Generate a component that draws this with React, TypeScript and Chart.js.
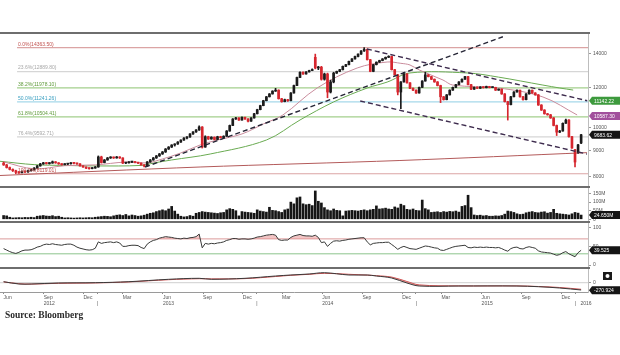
import React, { useEffect, useRef } from 'react';
import { Chart, registerables } from 'chart.js';
Chart.register(...registerables);

// ---------- DATA ----------
const START_DATE = '2012-06-01'; // week index 0
// weekly candles [open, high, low, close]
const ohlc: number[][] = [
  [8520,8560,8430,8450],[8450,8470,8330,8350],[8350,8370,8260,8280],[8280,8300,8200,8230],[8230,8250,8119,8170],
  [8170,8200,8130,8160],[8160,8230,8150,8200],[8200,8220,8160,8190],[8190,8250,8170,8230],[8230,8280,8210,8260],
  [8260,8350,8250,8330],[8330,8430,8320,8410],[8410,8510,8400,8490],[8490,8550,8470,8530],[8530,8550,8480,8500],
  [8500,8540,8480,8520],[8520,8600,8510,8570],[8570,8580,8510,8530],[8530,8540,8470,8490],[8490,8500,8440,8460],
  [8460,8500,8450,8480],[8480,8510,8460,8495],[8495,8540,8480,8520],[8520,8540,8490,8510],[8510,8520,8470,8490],
  [8490,8500,8400,8410],[8410,8420,8350,8370],[8370,8380,8310,8330],[8330,8340,8290,8310],[8310,8350,8300,8330],
  [8330,8390,8320,8370],[8370,8800,8360,8760],[8760,8790,8520,8540],[8540,8660,8530,8640],[8640,8740,8630,8720],
  [8720,8770,8700,8750],[8750,8760,8700,8720],[8720,8780,8710,8760],[8760,8770,8700,8720],[8720,8730,8500,8520],
  [8520,8550,8500,8530],[8530,8580,8520,8560],[8560,8590,8540,8565],[8565,8570,8530,8545],[8545,8550,8500,8520],
  [8520,8530,8440,8450],[8450,8460,8370,8410],[8410,8580,8400,8565],[8565,8660,8550,8640],[8640,8740,8630,8720],
  [8720,8820,8700,8800],[8800,8900,8780,8880],[8880,8980,8860,8960],[8960,9100,8940,9080],[9080,9180,9060,9160],
  [9160,9260,9140,9246],[9246,9300,9200,9290],[9290,9390,9270,9370],[9370,9470,9350,9457],[9457,9560,9440,9540],
  [9540,9600,9500,9590],[9590,9740,9570,9720],[9720,9830,9700,9810],[9810,9910,9790,9896],[9896,10080,9880,10030],
  [10030,10050,9120,9160],[9160,9640,9150,9600],[9600,9620,9480,9500],[9500,9600,9490,9580],[9580,9590,9460,9480],
  [9480,9620,9470,9600],[9600,9620,9540,9560],[9560,9640,9550,9620],[9620,9870,9610,9850],[9850,10120,9840,10100],
  [10100,10420,10090,10400],[10400,10480,10380,10450],[10450,10470,10330,10350],[10350,10500,10340,10480],[10480,10490,10380,10400],
  [10400,10420,10260,10300],[10300,10470,10290,10450],[10450,10670,10440,10650],[10650,10870,10640,10850],[10850,11070,10840,11050],
  [11050,11320,11040,11300],[11300,11520,11290,11500],[11500,11670,11490,11650],[11650,11820,11640,11800],[11800,11950,11780,11850],
  [11850,11870,11380,11400],[11400,11420,11220,11250],[11250,11380,11240,11350],[11350,11370,11260,11300],[11300,11720,11290,11700],
  [11700,12120,11690,12100],[12100,12570,12090,12550],[12550,12870,12540,12850],[12850,12880,12720,12750],[12750,12890,12740,12870],
  [12870,12970,12860,12950],[12950,13050,12940,13000],[13750,13950,13050,13100],[13100,13200,13000,13150],[13150,13200,12400,12450],
  [12450,12800,12400,12750],[12750,12800,11450,11750],[11750,12400,11700,12300],[12300,12850,12250,12800],[12800,12920,12780,12900],
  [12900,13020,12880,13000],[13000,13220,12980,13200],[13200,13320,13180,13300],[13300,13520,13280,13500],[13500,13670,13480,13650],
  [13650,13820,13630,13800],[13800,13970,13780,13950],[13950,14170,13930,14150],[14150,14363.5,14120,14250],[14250,14270,13580,13600],
  [13600,13620,12880,12900],[12900,13320,12880,13300],[13300,13470,13280,13450],[13450,13570,13430,13550],[13550,13670,13530,13650],
  [13650,13770,13630,13750],[13750,13850,13730,13800],[13800,13820,12980,13000],[13000,13020,12680,12700],[12700,12720,11600,11750],
  [11750,12320,10900,12300],[12300,12850,12280,12750],[12750,12770,12230,12250],[12250,12270,11930,11950],[11950,11980,11820,11850],
  [11850,11870,11680,11700],[11700,12020,11690,12000],[12000,12370,11990,12350],[12350,12850,12340,12700],[12700,12720,12580,12600],
  [12600,12620,12430,12450],[12450,12470,12280,12300],[12300,12320,12080,12100],[12100,12120,11200,11500],[11500,11520,11330,11350],
  [11350,11620,11340,11600],[11600,11870,11590,11850],[11850,12020,11840,12000],[12000,12170,11990,12150],[12150,12320,12140,12300],
  [12300,12470,12290,12450],[12450,12620,12440,12600],[12600,12620,12130,12150],[12150,12170,11880,11900],[11900,12020,11890,12000],
  [12000,12030,11930,11950],[11950,12040,11940,12020],[12020,12040,11960,11980],[11980,12070,11970,12050],[12050,12060,11970,11990],
  [11990,12030,11980,12000],[12000,12010,11830,11850],[11850,11920,11840,11900],[11900,11920,11630,11650],[11650,11670,11230,11250],
  [11250,11270,10350,11100],[11100,11520,11090,11500],[11500,11770,11490,11750],[11750,11870,11740,11850],[11850,11860,11480,11500],
  [11500,11520,11330,11350],[11350,11670,11340,11650],[11650,11870,11640,11850],[11850,11860,11680,11700],[11700,11720,11580,11600],
  [11600,11620,11060,11080],[11080,11100,10810,10830],[10830,10850,10630,10650],[10650,10670,10580,10600],[10600,10620,10430,10450],
  [10450,10470,10080,10100],[10100,10120,9650,9800],[9800,9880,9780,9850],[9850,10220,9840,10200],[10200,10400,10190,10350],
  [10350,10370,9580,9600],[9600,9620,9100,9120],[9050,9070,8370,8560],[8950,9270,8900,9250],[9330,9700,9300,9683.62],
];
// weekly volume, millions
const volume: number[] = [
  22,20,12,8,9,10,9,11,10,12, 10,18,20,22,19,18,21,16,18,12, 8,9,8,7,8,9,8,9,10,9,
  12,14,16,18,17,15,20,24,26,22, 28,20,25,22,18,20,24,30,35,38, 45,50,55,50,60,75,48,30,18,14,
  16,22,18,35,40,45,42,40,38,36, 34,38,40,55,62,58,50,20,45,42, 40,38,35,55,48,45,42,70,52,50,
  45,40,55,60,100,90,125,130,90,85, 88,80,165,105,95,68,55,50,60,52, 50,20,48,50,52,50,48,52,55,50,
  55,58,78,60,62,65,60,58,72,66, 88,80,58,55,60,52,50,112,62,55, 40,42,44,40,45,42,46,44,48,42,
  75,80,140,68,25,22,24,20,22,18, 18,20,19,22,30,48,45,40,32,28, 30,38,42,45,40,38,42,44,36,40,
  58,35,32,30,28,25,32,40,36,24.65,
];
const rsi: number[] = [
  44,40,36,33,31,34,38,40,40,41, 44,48,50,54,56,55,57,55,54,53, 55,56,56,53,48,45,43,41,40,41,
  45,62,58,60,61,62,60,62,59,50, 50,52,53,53,52,47,44,56,62,66, 68,72,74,76,75,74,72,71,70,72,
  71,73,74,76,83,46,58,56,58,57, 59,60,62,66,68,71,71,69,70,70, 69,70,72,75,76,78,80,81,82,80,
  68,66,67,67,74,78,80,82,79,78, 78,77,80,74,60,62,50,58,64,65, 64,66,67,69,70,71,72,73,73,62,
  54,58,59,60,60,61,61,55,49,42, 47,50,47,44,43,42,45,48,51,50, 48,46,45,40,39,42,45,48,50,51,
  52,53,47,46,48,47,48,47,48,47, 47,46,47,44,40,37,44,47,48,44, 43,47,49,47,45,38,35,34,33,32,
  29,26,28,33,36,30,26,22,33,39.525,
];
// indicator lines: [weekIndex, value]
const macdIdx = [0,5,9,18,30,41,54,64,68,79,89,94,100,105,113,119,122,127,132,136,149,168,175,182,189];
const macdLine = [50,-65,-65,-15,0,50,170,220,170,220,335,385,435,500,385,385,335,235,-15,-165,-165,-165,-200,-265,-365];
const macdSignal = [40,-50,-70,-30,-10,40,150,200,190,205,310,370,420,470,420,380,350,280,60,-110,-160,-160,-190,-240,-330];
const maShort: number[][] = [[0,8565],[10,8300],[20,8420],[30,8450],[40,8560],[47,8530],[52,8680],[58,8920],[64.3,9246],[70,9457],[78,9720],[85,10170],[91.4,10592],[102.6,11966],[115.7,13100],[125.5,13460],[130,13380],[133,13280],[136,12985],[143.8,12406],[147,12126],[162,11966],[176.5,11490],[187.7,10592]];
const maLong: number[][] = [[-1.2,8590],[10,8460],[20,8430],[30,8411],[45,8430],[49,8520],[55,8641],[67.6,8877],[86,9457],[97,10354],[108,11235],[119,11966],[125.5,12290],[133,12810],[151.7,12810],[162,12570],[176.5,12126],[182,11966],[186.4,11856]];
const longTrend: number[][] = [[-1.2,8054],[64.3,8370],[129.7,8620],[190.9,8932]];
const supportLine: number[][] = [[46.3,8370],[163.4,15090]];
const upperChannel: number[][] = [[118.9,14273],[191,11297]];
const lowerChannel: number[][] = [[116.7,11284],[190.9,8877]];
const fibLevels = [14363.5, 12889.8, 11978.1, 11241.26, 10504.41, 9592.71, 8119.01];
const fibLabels = ['0.0%(14363.50)','23.6%(12889.80)','38.2%(11978.10)','50.0%(11241.26)','61.8%(10504.41)','76.4%(9592.71)','100.0%(8119.01)'];
const priceTicks = [8000, 9000, 10000, 12000, 14000];
const volumeTicks = [0, 50, 100, 150];
const rsiTicks = [0, 50, 100];
const macdTicks = [0];
const xTickDates = ['2012-06-01','2012-09-01','2012-12-01','2013-01-01','2013-03-01','2013-06-01','2013-09-01','2013-12-01','2014-01-01','2014-03-01','2014-06-01','2014-09-01','2014-12-01','2015-01-01','2015-03-01','2015-06-01','2015-09-01','2015-12-01','2016-01-01'];
const xTickLabels = [['Jun',''],['Sep','2012'],['Dec',''],['','|'],['Mar',''],['Jun','2013'],['Sep',''],['Dec',''],['','|'],['Mar',''],['Jun','2014'],['Sep',''],['Dec',''],['','|'],['Mar',''],['Jun','2015'],['Sep',''],['Dec',''],['','|   2016']];
const valueBoxes = [
  { axis: 'yP', value: 11300, text: '11142.22', color: '#3d9a3d' },
  { axis: 'yP', value: 10545, text: '10587.30', color: '#a1509c' },
  { axis: 'yP', value: 9683.62, text: '9683.62', color: '#151515' },
  { axis: 'yV', value: 24.65, text: '24.650M', color: '#151515' },
  { axis: 'yR', value: 39.525, text: '39.525', color: '#151515' },
  { axis: 'yM', value: -380, text: '-270.924', color: '#151515' },
];

// ---------- STYLE ----------
const UP = '#1c1c1c';
const DOWN = '#d6262e';
const FONT = 'Liberation Sans';
const fibLineColors = ['#dba4a4','#d6d6d6','#a3cf8c','#a6d8ea','#a3cf8c','#d6d6d6','#dba4a4'];
const fibTextColors = ['#c0504d','#a8a8a8','#5f9a3a','#3a9fc0','#5f9a3a','#a8a8a8','#c0504d'];
const X_MIN = -1.18, X_MAX = 191.25, FIB_START = 4.4;

const weekIndex = (d: string) => (Date.parse(d) - Date.parse(START_DATE)) / (7 * 864e5);
const pts = (arr: number[][]) => arr.map(([x, y]) => ({ x, y }));

const overlay = {
  id: 'overlay',
  afterDatasetsDraw(chart: any) {
    const ctx = chart.ctx;
    const xs = chart.scales.x, yP = chart.scales.yP;
    ctx.save();
    ctx.font = `5px "${FONT}"`;
    ctx.textBaseline = 'bottom';
    fibLevels.forEach((lv, k) => {
      ctx.fillStyle = fibTextColors[k];
      ctx.fillText(fibLabels[k], xs.getPixelForValue(FIB_START) + 1, yP.getPixelForValue(lv) - 1);
    });
    ctx.restore();
  },
  afterDraw(chart: any) {
    const ctx = chart.ctx, area = chart.chartArea;
    ctx.save();
    ctx.strokeStyle = '#6e6e6e';
    ctx.lineWidth = 2;
    ['yP', 'yV', 'yR', 'yM'].forEach((id) => {
      const t = Math.round(chart.scales[id].top);
      ctx.beginPath();
      ctx.moveTo(0, t);
      ctx.lineTo(area.right + 2, t);
      ctx.stroke();
    });
    ctx.font = `5px "${FONT}"`;
    ctx.textBaseline = 'middle';
    valueBoxes.forEach((b) => {
      const y = chart.scales[b.axis].getPixelForValue(b.value);
      const x0 = area.right + 1;
      ctx.fillStyle = b.color;
      ctx.beginPath();
      ctx.moveTo(x0, y);
      ctx.lineTo(x0 + 3, y - 4);
      ctx.lineTo(x0 + 31, y - 4);
      ctx.lineTo(x0 + 31, y + 4);
      ctx.lineTo(x0 + 3, y + 4);
      ctx.closePath();
      ctx.fill();
      ctx.fillStyle = '#fff';
      ctx.fillText(b.text, x0 + 5, y + 0.5);
    });
    // small settings icon in the last panel
    const yM = chart.scales.yM;
    ctx.fillStyle = '#1a1a1a';
    ctx.fillRect(area.right + 15, yM.top + 4, 9, 8);
    ctx.fillStyle = '#fff';
    ctx.beginPath();
    ctx.arc(area.right + 19.5, yM.top + 8, 2, 0, Math.PI * 2);
    ctx.fill();
    ctx.restore();
  },
};

export default function App() {
  const ref = useRef<HTMLCanvasElement>(null);
  useEffect(() => {
    const canvas = ref.current!;
    const colors = ohlc.map(([o, , , c]) => (c >= o ? UP : DOWN));
    const line = (data: any[], axis: string, color: string, width = 1, extra: any = {}) => ({
      type: 'line', data, yAxisID: axis, borderColor: color, borderWidth: width,
      pointRadius: 0, fill: false, tension: 0, ...extra,
    });
    const datasets: any[] = [];
    // top-most first
    datasets.push(line(pts(supportLine), 'yP', '#262636', 1.4, { borderDash: [5, 3] }));
    datasets.push(line(pts(upperChannel), 'yP', '#3e2c4e', 1.4, { borderDash: [5, 3] }));
    datasets.push(line(pts(lowerChannel), 'yP', '#3e2c4e', 1.4, { borderDash: [5, 3] }));
    datasets.push({
      type: 'bar', yAxisID: 'yP', data: ohlc.map(([o, , , c], i) => ({ x: i, y: [o, c] })),
      backgroundColor: colors, barThickness: 2, grouped: false, minBarLength: 1,
    });
    datasets.push({
      type: 'bar', yAxisID: 'yP', data: ohlc.map(([, h, l], i) => ({ x: i, y: [l, h] })),
      backgroundColor: colors, barThickness: 1, grouped: false,
    });
    datasets.push(line(pts(maShort), 'yP', '#c98c9c', 1, { tension: 0.35 }));
    datasets.push(line(pts(maLong), 'yP', '#6aab52', 1, { tension: 0.35 }));
    datasets.push(line(pts(longTrend), 'yP', '#b35a5a', 1, { tension: 0.3 }));
    fibLevels.forEach((lv, k) => {
      datasets.push(line([{ x: FIB_START, y: lv }, { x: X_MAX, y: lv }], 'yP', fibLineColors[k], 1.2));
    });
    // volume
    datasets.push({
      type: 'bar', yAxisID: 'yV', data: volume.map((v, i) => ({ x: i, y: v })),
      backgroundColor: '#151515', barThickness: 2, grouped: false,
    });
    // RSI
    const rsiIndex = datasets.length;
    datasets.push(line(rsi.map((v, i) => ({ x: i, y: v })), 'yR', '#3a3a3a', 1, {
      fill: { target: { value: 70 }, above: 'rgba(232,150,150,0.55)', below: 'rgba(0,0,0,0)' },
    }));
    datasets.push(line([{ x: X_MIN, y: 70 }, { x: X_MAX, y: 70 }], 'yR', '#dc9a9a', 1));
    datasets.push(line([{ x: X_MIN, y: 30 }, { x: X_MAX, y: 30 }], 'yR', '#8cc48c', 1, {
      fill: { target: rsiIndex, above: 'rgba(140,205,140,0.5)', below: 'rgba(0,0,0,0)' },
    }));
    // MACD
    const macdIndex = datasets.length;
    datasets.push(line(macdIdx.map((x, k) => ({ x, y: macdLine[k] })), 'yM', '#3a3a3a', 1, {
      tension: 0.35,
      fill: { target: macdIndex + 1, above: 'rgba(200,200,200,0.35)', below: 'rgba(214,110,110,0.6)' },
    }));
    datasets.push(line(macdIdx.map((x, k) => ({ x, y: macdSignal[k] })), 'yM', '#d04848', 1, { tension: 0.35 }));
    datasets.push(line([{ x: X_MIN, y: 0 }, { x: X_MAX, y: 0 }], 'yM', '#cfcfcf', 1));

    const tickFont = { size: 5, family: FONT };
    const yAxis = (weight: number, extra: any) => ({
      position: 'right', stack: 'panels', stackWeight: weight,
      grid: { drawOnChartArea: false, tickLength: 3, color: '#999' },
      border: { display: true, color: '#bdbdbd' },
      ticks: { font: tickFont, color: '#555', padding: 2, autoSkip: false },
      afterFit: (s: any) => { s.width = 32; },
      ...extra,
    });
    const xTicks = xTickDates.map(weekIndex);

    const chart = new Chart(canvas, {
      type: 'bar',
      data: { datasets },
      plugins: [overlay],
      options: {
        responsive: false,
        animation: false,
        devicePixelRatio: 1,
        events: [],
        layout: { padding: { top: 33, left: 0, right: 0, bottom: 0 } },
        plugins: { legend: { display: false }, tooltip: { enabled: false } },
        scales: {
          x: {
            type: 'linear', min: X_MIN, max: X_MAX, offset: false,
            grid: { drawOnChartArea: false, tickLength: 2, color: '#888', offset: false },
            border: { display: true, color: '#9a9a9a' },
            afterBuildTicks: (s: any) => { s.ticks = xTicks.map((v) => ({ value: v })); },
            afterFit: (s: any) => { s.height = 20; },
            ticks: {
              font: tickFont, color: '#555', padding: 1, autoSkip: false, maxRotation: 0, align: 'start',
              callback: (_v: any, i: number) => xTickLabels[i],
            },
          },
          yP: yAxis(154, {
            type: 'logarithmic', min: 7646, max: 15348,
            afterBuildTicks: (s: any) => { s.ticks = priceTicks.map((v) => ({ value: v })); },
            ticks: { font: tickFont, color: '#555', padding: 2, autoSkip: false, callback: (v: any) => String(v) },
          }),
          yV: yAxis(35, {
            type: 'linear', min: -15.7, max: 188,
            afterBuildTicks: (s: any) => { s.ticks = volumeTicks.map((v) => ({ value: v })); },
            ticks: { font: tickFont, color: '#555', padding: 2, autoSkip: false, callback: (v: any) => (v === 0 ? '0' : v + 'M') },
          }),
          yR: yAxis(46, {
            type: 'linear', min: -8, max: 115.3,
            afterBuildTicks: (s: any) => { s.ticks = rsiTicks.map((v) => ({ value: v })); },
            ticks: { font: tickFont, color: '#555', padding: 2, autoSkip: false, callback: (v: any) => String(v) },
          }),
          yM: yAxis(24, {
            type: 'linear', min: -465, max: 735,
            afterBuildTicks: (s: any) => { s.ticks = macdTicks.map((v) => ({ value: v })); },
            ticks: { font: tickFont, color: '#555', padding: 2, autoSkip: false, callback: (v: any) => String(v) },
          }),
        },
      } as any,
    });
    return () => chart.destroy();
  }, []);

  return (
    <div style={{ position: 'fixed', left: 0, top: 0, width: 620, height: 355, background: '#fff', overflow: 'hidden' }}>
      <canvas ref={ref} width={620} height={312} style={{ position: 'absolute', left: 0, top: 0, width: 620, height: 312 }} />
      <div style={{ position: 'absolute', left: 5, top: 310, fontFamily: '"Liberation Serif", serif', fontSize: 9.5, color: '#2a2a2a', whiteSpace: 'nowrap', fontWeight: 'bold' }}>
        Source: Bloomberg
      </div>
    </div>
  );
}
